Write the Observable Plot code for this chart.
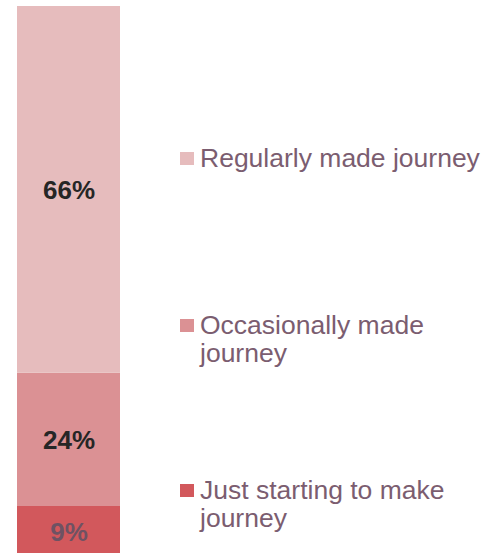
<!DOCTYPE html>
<html><head><meta charset="utf-8">
<script src="https://cdn.jsdelivr.net/npm/d3@7"></script>
<script src="https://cdn.jsdelivr.net/npm/@observablehq/plot@0.6"></script>
<style>
html,body{margin:0;padding:0;overflow:hidden;background:#fff;}
#wrap{position:relative;width:486px;height:553px;overflow:hidden;}
#wrap svg{position:absolute;left:0;top:0;}
.item{position:absolute;left:180px;width:306px;font-family:"Liberation Sans",Arial,sans-serif;font-size:26.5px;line-height:28px;color:#7b5d70;}
.item .sw{position:absolute;left:0;top:8px;width:14px;height:13px;}
.item .tx{padding-left:20px;}
</style></head>
<body><div id="wrap"></div>
<script>
const categories = ["Just starting to make journey", "Occasionally made journey", "Regularly made journey"];
const values = [9, 24, 66];
const labels = ["9%", "24%", "66%"];
const colors = ["#d2585c", "#db9194", "#e6bcbd"];
const labelColors = ["#6e5263", "#262626", "#262626"];
const legendTops = [476, 311, 144];

const data = categories.map((c, i) => ({category: c, value: values[i], label: labels[i]}));

const chart = Plot.plot({
  width: 486, height: 556,
  marginTop: 6, marginBottom: 0, marginLeft: 17, marginRight: 366,
  style: {fontFamily: "Liberation Sans, Arial, sans-serif", background: "transparent"},
  x: {domain: ["All"], padding: 0, axis: null},
  y: {domain: [0, 99], axis: null},
  color: {domain: categories, range: colors},
  marks: [
    Plot.barY(data, Plot.stackY({x: () => "All", y: "value", fill: "category"})),
    Plot.text(data, Plot.stackY({x: () => "All", y: "value", z: "category", text: "label", fontWeight: "bold", fontSize: 26, fill: "#262626", dy: 1}))
  ]
});
d3.select(chart).selectAll("g[aria-label=text] text").attr("fill", (d, i) => labelColors[i]);
const wrap = document.getElementById("wrap");
wrap.appendChild(chart);

categories.forEach((c, i) => {
  const div = document.createElement("div");
  div.className = "item";
  div.style.top = legendTops[i] + "px";
  const sw = document.createElement("div");
  sw.className = "sw";
  sw.style.background = colors[i];
  const tx = document.createElement("div");
  tx.className = "tx";
  tx.textContent = c;
  div.appendChild(sw);
  div.appendChild(tx);
  wrap.appendChild(div);
});
</script>
</body></html>
